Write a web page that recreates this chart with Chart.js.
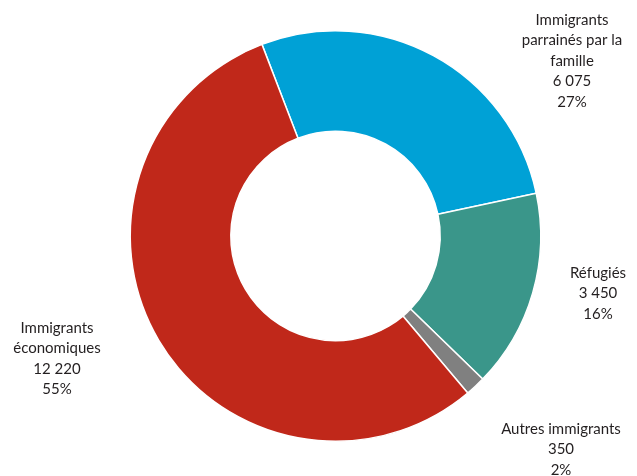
<!DOCTYPE html>
<html lang="fr">
<head>
<meta charset="utf-8">
<script src="https://cdn.jsdelivr.net/npm/chart.js@4"></script>
<style>
  html, body { margin: 0; padding: 0; background: #fff; }
  #wrap { width: 637px; height: 476px; }
</style>
</head>
<body>
<div id="wrap"><canvas id="graphique"></canvas></div>
<script>
// données
const categories = [
    ['Immigrants', 'parrainés par la', 'famille'],
    ['Réfugiés'],
    ['Autres immigrants'],
    ['Immigrants', 'économiques']
];
const valeurs = [6075, 3450, 350, 12220];
const couleurs = ['#00A1D6', '#3A968A', '#808080', '#C0281A'];
// emplacement des étiquettes (centre x, y de la première ligne)
const positionsEtiquettes = [[572, 20], [598, 273], [561, 429], [57, 328]];

const total = valeurs.reduce((a, b) => a + b, 0);
const fmt = n => String(n).replace(/\B(?=(\d{3})+(?!\d))/g, ' ');

const etiquettes = {
    id: 'etiquettes',
    afterDraw(chart) {
        const ctx = chart.ctx;
        ctx.save();
        ctx.font = '15px Lato, "Open Sans", sans-serif';
        ctx.fillStyle = '#231F20';
        ctx.textAlign = 'center';
        ctx.textBaseline = 'middle';
        categories.forEach((lignes, i) => {
            const txt = lignes.concat([fmt(valeurs[i]), Math.round(valeurs[i] / total * 100) + '%']);
            const [x, y] = positionsEtiquettes[i];
            txt.forEach((t, k) => ctx.fillText(t, x, y + k * 20.5));
        });
        ctx.restore();
    }
};

new Chart(document.getElementById('graphique').getContext('2d'), {
    type: 'doughnut',
    data: {
        labels: categories.map(c => c.join(' ')),
        datasets: [{
            data: valeurs,
            backgroundColor: couleurs,
            borderColor: '#ffffff',
            borderWidth: 1.5,
            hoverOffset: 0
        }]
    },
    options: {
        responsive: true,
        maintainAspectRatio: false,
        animation: false,
        rotation: -21,
        cutout: '51%',
        layout: { padding: { left: 129, right: 95, top: 30, bottom: 34 } },
        plugins: {
            legend: { display: false },
            tooltip: { enabled: false }
        }
    },
    plugins: [etiquettes]
});
</script>
</body>
</html>
